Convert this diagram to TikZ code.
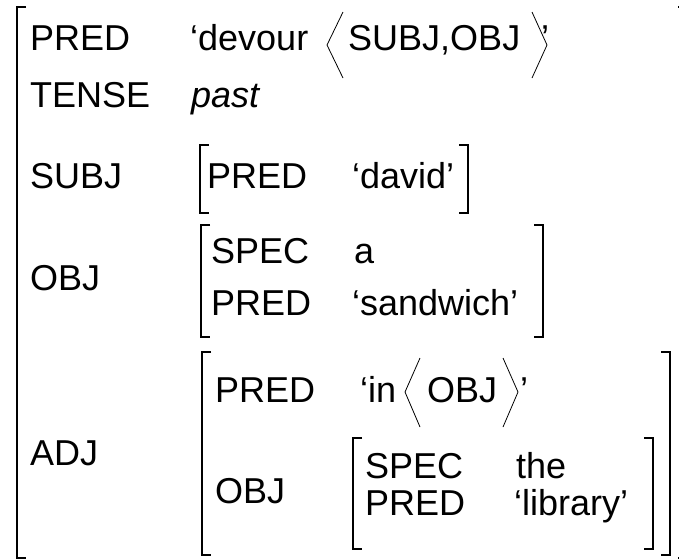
\documentclass[tikz,border=0pt]{standalone}
\usepackage{fontspec}
\setmainfont{Liberation Sans}
\begin{document}
\begin{tikzpicture}[x=1pt,y=-1pt,font=\fontsize{36}{40}\selectfont, line join=miter,
	lbl/.style={anchor=base west,inner sep=0pt}, brk/.style={line width=1.4pt}, ang/.style={line width=0.8pt}]
	\useasboundingbox (0,0) rectangle (679,558);
	% square brackets: left x / right x / top / bottom
	\foreach \xl/\xr/\yt/\yb in {17/687/7/558, 200/468/145/213, 201/543/225/337, 202/670/352/555, 353/653/438/549}{
		\draw[brk] (\xl+9,\yt) -| (\xl,\yb) -- (\xl+9,\yb);
		\draw[brk] (\xr-9,\yt) -| (\xr,\yb) -- (\xr-9,\yb);}
	% outer f-structure
	\node[lbl] (pred) at (30,50) {PRED};
	\node[lbl] (devour) at (190,50) {‘devour};
	\node[lbl] (args) at (348,50) {SUBJ,OBJ};
	\node[lbl] (q1) at (541,50) {’};
	\draw[ang] (343,12) -- (327,45) -- (343,78);
	\draw[ang] (532,12) -- (547,45) -- (532,78);
	\node[lbl] (tense) at (30,107) {TENSE};
	\node[lbl] (past) at (191,107) {\itshape past};
	\node[lbl] (subj) at (30,188) {SUBJ};
	\node[lbl] (obj) at (30,290) {OBJ};
	\node[lbl] (adj) at (30,465) {ADJ};
	% subject
	\node[lbl] (spred) at (207,188) {PRED};
	\node[lbl] (david) at (352,188) {‘david’};
	% object
	\node[lbl] (ospec) at (211,263) {SPEC};
	\node[lbl] (a) at (354,263) {a};
	\node[lbl] (opred) at (211,315) {PRED};
	\node[lbl] (sandwich) at (352,315) {‘sandwich’};
	% adjunct
	\node[lbl] (apred) at (215,402) {PRED};
	\node[lbl] (in) at (360,402) {‘in};
	\node[lbl] (inarg) at (427,402) {OBJ};
	\node[lbl] (q2) at (520,402) {’};
	\draw[ang] (420,358) -- (405,392) -- (420,427);
	\draw[ang] (503,358) -- (518,392) -- (503,427);
	\node[lbl] (aobj) at (215,503) {OBJ};
	\node[lbl] (lspec) at (365,478) {SPEC};
	\node[lbl] (the) at (516,478) {the};
	\node[lbl] (lpred) at (365,515) {PRED};
	\node[lbl] (library) at (514,515) {‘library’};
\end{tikzpicture}
\end{document}
